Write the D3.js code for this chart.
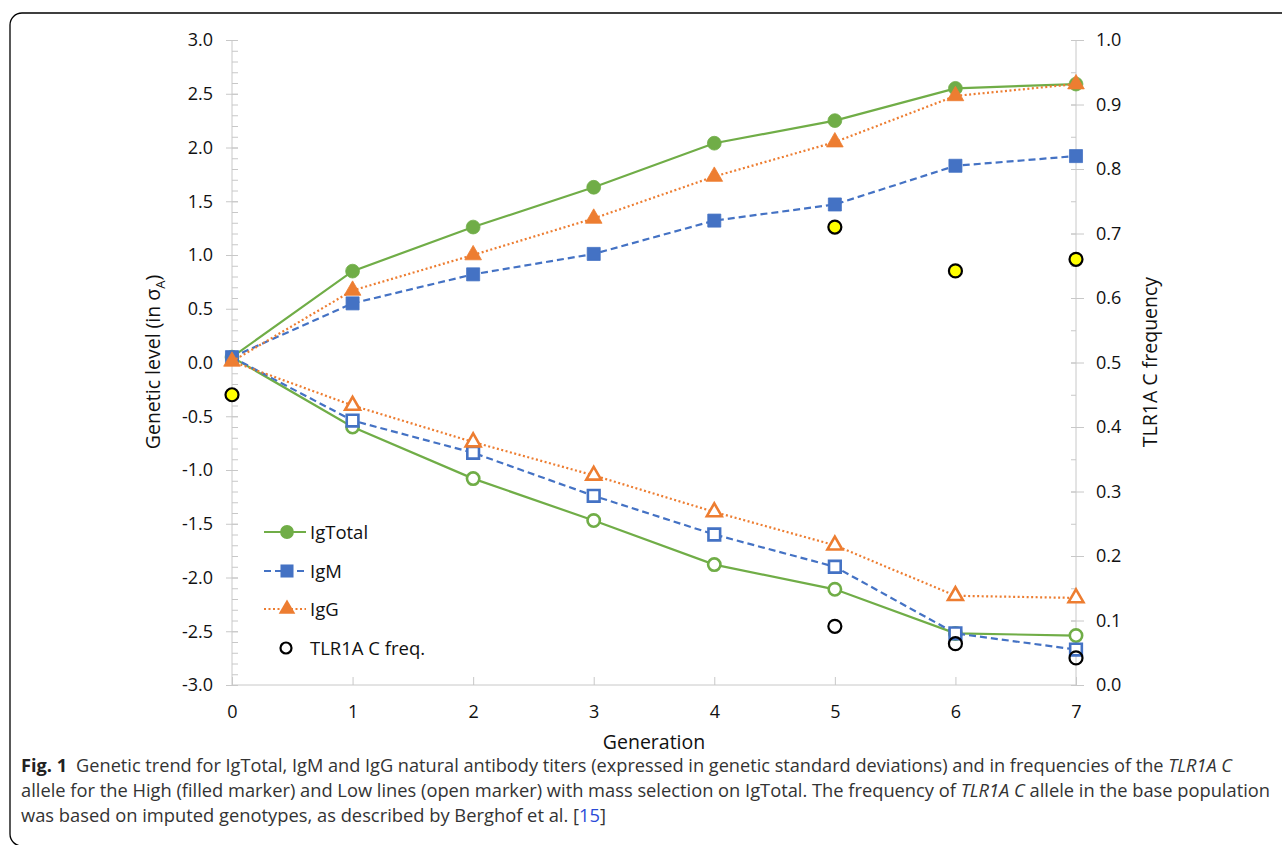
<!DOCTYPE html>
<html>
<head>
<meta charset="utf-8">
<script src="https://cdn.jsdelivr.net/npm/d3@7"></script>
<style>
  body { margin: 0; background: #fff; }
  text { font-family: "Open Sans", sans-serif; }
</style>
</head>
<body>
<div id="chart"></div>
<script>
// generations on the x axis
const generations = [0, 1, 2, 3, 4, 5, 6, 7];

// genetic level (sigma A), high line (filled) and low line (open)
const igTotalHigh = [0.05, 0.85, 1.26, 1.63, 2.04, 2.25, 2.55, 2.59];
const igTotalLow  = [0.05, -0.60, -1.08, -1.47, -1.88, -2.11, -2.52, -2.54];
const igMHigh     = [0.05, 0.55, 0.82, 1.01, 1.32, 1.47, 1.83, 1.92];
const igMLow      = [0.05, -0.54, -0.84, -1.24, -1.60, -1.90, -2.52, -2.67];
const igGHigh     = [0.01, 0.67, 1.00, 1.34, 1.73, 2.05, 2.48, 2.59];
const igGLow      = [0.01, -0.40, -0.74, -1.05, -1.39, -1.70, -2.17, -2.19];

// TLR1A C allele frequency (right axis)
const tlrHighGen = [0, 5, 6, 7];
const tlrHigh    = [0.45, 0.71, 0.642, 0.66];
const tlrLowGen  = [5, 6, 7];
const tlrLow     = [0.091, 0.064, 0.042];

const leftTicks  = [-3, -2.5, -2, -1.5, -1, -0.5, 0, 0.5, 1, 1.5, 2, 2.5, 3];
const rightTicks = [0, 0.1, 0.2, 0.3, 0.4, 0.5, 0.6, 0.7, 0.8, 0.9, 1.0];

const green = "#70ad47", blue = "#4472c4", orange = "#ed7d31";

const width = 1282, height = 845;
const svg = d3.select("#chart").append("svg")
    .attr("width", width)
    .attr("height", height);

// frame round the figure
svg.append("rect")
    .attr("x", 10).attr("y", 13)
    .attr("width", 1300).attr("height", 833)
    .attr("rx", 12)
    .attr("fill", "none")
    .attr("stroke", "#000")
    .attr("stroke-width", 1.3);

const x = d3.scaleLinear().domain([0, 7]).range([232, 1076]);
const yL = d3.scaleLinear().domain([-3, 3]).range([685, 40]);
const yR = d3.scaleLinear().domain([0, 1]).range([685, 40]);

const axisColor = "#c8c8c8", labelColor = "#111";

// left axis: minor ticks inside, major ticks crossing
const minorL = d3.range(-30, 31).map(d => d / 10);
svg.append("g")
    .attr("transform", "translate(232,0)")
    .call(d3.axisRight(yL).tickValues(minorL).tickSize(6).tickFormat(""))
    .call(g => g.select(".domain").remove())
    .selectAll("line").attr("stroke", axisColor);

const gL = svg.append("g")
    .attr("transform", "translate(232,0)")
    .call(d3.axisLeft(yL).tickValues(leftTicks).tickSize(6).tickPadding(13).tickFormat(d3.format(".1f")));
gL.select(".domain").attr("stroke", axisColor).attr("d", "M0,40V685");
gL.selectAll(".tick line").attr("stroke", axisColor).attr("x1", 6).attr("x2", -6);
gL.selectAll(".tick text")
    .attr("fill", labelColor)
    .style("font-size", "18px")
    .style("font-family", "'Open Sans', sans-serif")
    .text(d => d3.format(".1f")(d).replace("−", "-"));

// right axis
const minorR = d3.range(0, 21).map(d => d / 20);
svg.append("g")
    .attr("transform", "translate(1076,0)")
    .call(d3.axisLeft(yR).tickValues(minorR).tickSize(5).tickFormat(""))
    .call(g => g.select(".domain").remove())
    .selectAll("line").attr("stroke", axisColor);

const gR = svg.append("g")
    .attr("transform", "translate(1076,0)")
    .call(d3.axisRight(yR).tickValues(rightTicks).tickSize(8).tickPadding(12).tickFormat(d3.format(".1f")));
gR.select(".domain").attr("stroke", axisColor).attr("d", "M0,40V685");
gR.selectAll(".tick line").attr("stroke", axisColor).attr("x1", -5).attr("x2", 8);
gR.selectAll(".tick text")
    .attr("fill", labelColor)
    .style("font-size", "18px")
    .style("font-family", "'Open Sans', sans-serif");

// x axis, ticks pointing up into the plot
const gX = svg.append("g")
    .attr("transform", "translate(0,685)")
    .call(d3.axisBottom(x).tickValues(generations).tickSize(0).tickPadding(20).tickFormat(d3.format("d")));
gX.select(".domain").attr("stroke", axisColor).attr("d", "M232,0H1076");
gX.selectAll(".tick line").attr("stroke", axisColor).attr("y1", 0).attr("y2", -8);
gX.selectAll(".tick text")
    .attr("fill", labelColor)
    .style("font-size", "18px")
    .style("font-family", "'Open Sans', sans-serif");

// axis titles
svg.append("text")
    .attr("transform", "translate(160,362) rotate(-90)")
    .attr("text-anchor", "middle")
    .attr("fill", labelColor)
    .style("font-size", "19.5px")
    .html('Genetic level (in σ<tspan dy="5" font-size="13px">A</tspan><tspan dy="-5">)</tspan>');

svg.append("text")
    .attr("transform", "translate(1157,362) rotate(-90)")
    .attr("text-anchor", "middle")
    .attr("fill", labelColor)
    .style("font-size", "19.5px")
    .text("TLR1A C frequency");

svg.append("text")
    .attr("x", 654).attr("y", 749)
    .attr("text-anchor", "middle")
    .attr("fill", labelColor)
    .style("font-size", "19.5px")
    .text("Generation");

// series
const series = [
    {name: "IgTotal", color: green, dash: null, shape: d3.symbolCircle, size: 150, high: igTotalHigh, low: igTotalLow},
    {name: "IgM", color: blue, dash: "7,4", shape: d3.symbolSquare, size: 170, high: igMHigh, low: igMLow},
    {name: "IgG", color: orange, dash: "2,2.5", shape: d3.symbolTriangle, size: 120, high: igGHigh, low: igGLow}
];

const line = d3.line().x((d, i) => x(generations[i])).y(d => yL(d));

series.forEach(function(s) {
    [s.high, s.low].forEach(function(vals) {
        svg.append("path")
            .datum(vals)
            .attr("d", line)
            .attr("fill", "none")
            .attr("stroke", s.color)
            .attr("stroke-width", 2.2)
            .attr("stroke-dasharray", s.dash);
    });
    // filled markers for high line
    svg.selectAll(null)
        .data(s.high)
        .enter().append("path")
        .attr("d", d3.symbol().type(s.shape).size(s.size))
        .attr("transform", (d, i) => `translate(${x(generations[i])},${yL(d)})`)
        .attr("fill", s.color)
        .attr("stroke", s.color)
        .attr("stroke-width", 0.8);
    // open markers for low line (gen 0 is shared)
    svg.selectAll(null)
        .data(s.low.slice(1))
        .enter().append("path")
        .attr("d", d3.symbol().type(s.shape).size(s.size * 0.8))
        .attr("transform", (d, i) => `translate(${x(generations[i + 1])},${yL(d)})`)
        .attr("fill", "#fff")
        .attr("stroke", s.color)
        .attr("stroke-width", 2.6);
});

// TLR1A C frequency
svg.selectAll(null)
    .data(tlrHigh)
    .enter().append("circle")
    .attr("cx", (d, i) => x(tlrHighGen[i]))
    .attr("cy", d => yR(d))
    .attr("r", 6.5)
    .attr("fill", "#ffff00")
    .attr("stroke", "#000")
    .attr("stroke-width", 2.2);

svg.selectAll(null)
    .data(tlrLow)
    .enter().append("circle")
    .attr("cx", (d, i) => x(tlrLowGen[i]))
    .attr("cy", d => yR(d))
    .attr("r", 6.5)
    .attr("fill", "none")
    .attr("stroke", "#000")
    .attr("stroke-width", 2.2);

// legend
const legend = svg.append("g").attr("id", "legend");
const legendY = [532, 571, 609];
series.forEach(function(s, i) {
    legend.append("line")
        .attr("x1", 264).attr("x2", 306)
        .attr("y1", legendY[i]).attr("y2", legendY[i])
        .attr("stroke", s.color)
        .attr("stroke-width", 2.2)
        .attr("stroke-dasharray", s.dash);
    legend.append("path")
        .attr("d", d3.symbol().type(s.shape).size(s.size))
        .attr("transform", `translate(287,${legendY[i]})`)
        .attr("fill", s.color);
    legend.append("text")
        .attr("x", 310).attr("y", legendY[i] + 7)
        .attr("fill", labelColor)
        .style("font-size", "18.5px")
        .text(s.name);
});
legend.append("circle")
    .attr("cx", 286).attr("cy", 648).attr("r", 5.5)
    .attr("fill", "none").attr("stroke", "#000").attr("stroke-width", 2.2);
legend.append("text")
    .attr("x", 310).attr("y", 655)
    .attr("fill", labelColor)
    .style("font-size", "18.5px")
    .text("TLR1A C freq.");

// caption
const cap = svg.append("g").attr("fill", "#333").style("font-size", "17.5px");
const c1 = cap.append("text").attr("x", 21).attr("y", 772)
    .attr("textLength", 1211).attr("lengthAdjust", "spacingAndGlyphs");
c1.append("tspan").attr("font-weight", "bold").attr("fill", "#222").text("Fig. 1");
c1.append("tspan").text("\u2002Genetic trend for IgTotal, IgM and IgG natural antibody titers (expressed in genetic standard deviations) and in frequencies of the ");
c1.append("tspan").attr("font-style", "italic").text("TLR1A C");

const c2 = cap.append("text").attr("x", 21).attr("y", 797)
    .attr("textLength", 1249).attr("lengthAdjust", "spacingAndGlyphs");
c2.append("tspan").text("allele for the High (filled marker) and Low lines (open marker) with mass selection on IgTotal. The frequency of ");
c2.append("tspan").attr("font-style", "italic").text("TLR1A C");
c2.append("tspan").text(" allele in the base population");

const c3 = cap.append("text").attr("x", 21).attr("y", 822)
    .attr("textLength", 585).attr("lengthAdjust", "spacingAndGlyphs");
c3.append("tspan").text("was based on imputed genotypes, as described by Berghof et al. [");
c3.append("tspan").attr("fill", "#2a4bd7").text("15");
c3.append("tspan").text("]");
</script>
</body>
</html>
